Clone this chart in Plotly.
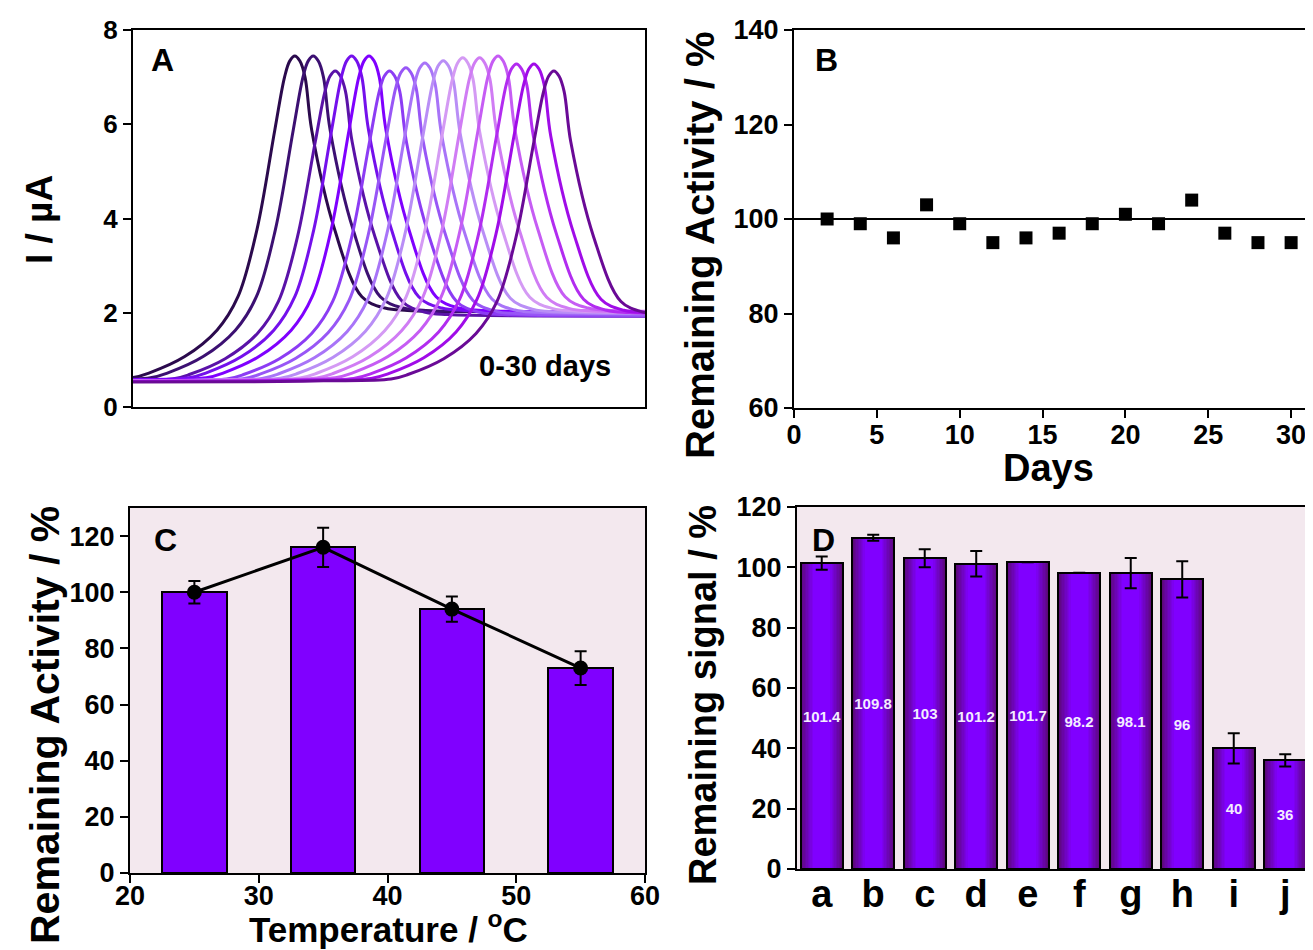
import plotly.graph_objects as go

# ---------------- Panel A: DPV curves (0-30 days) ----------------
peak_pos = [31.6, 35.2, 39.5, 42.7, 46.1, 50.1, 53.3, 57.0, 60.6, 64.4, 67.7, 71.3, 74.9, 78.3, 82.2]
peak_height = [7.45, 7.45, 7.13, 7.45, 7.45, 7.13, 7.20, 7.30, 7.35, 7.41, 7.41, 7.45, 7.28, 7.28, 7.13]
curve_colors = ["#2b0a4d", "#3c1072", "#5a12a8", "#7410ec", "#7f00ff", "#8c3cf4", "#9856f6",
                "#a874f8", "#b98ef6", "#d49af4", "#d07cf4", "#c65cf4", "#b22cf0", "#a00ce8", "#6a0a96"]
# peak profile (offset from peak, current in uA)
profile_offset = [-100, -60, -45, -31.8, -28.5, -21.5, -15.2, -11.1, -7.4, -3.9, -2.0, -1.0, 0,
                  1.0, 2.0, 3.3, 7.8, 13.1, 17.6, 22, 40, 80]
profile_value = [0.55, 0.56, 0.58, 0.62, 0.72, 1.07, 1.63, 2.34, 3.76, 5.88, 7.0, 7.34, 7.45,
                 7.34, 7.0, 5.88, 3.76, 2.34, 2.1, 2.05, 2.02, 2.0]
profile_ref_height = 7.45

# ---------------- Panel B: storage stability ----------------
days = [2, 4, 6, 8, 10, 12, 14, 16, 18, 20, 22, 24, 26, 28, 30]
activity_days = [100, 99, 96, 103, 99, 95, 96, 97, 99, 101, 99, 104, 97, 95, 95]
reference_level = 100

# ---------------- Panel C: temperature ----------------
temperature = [25, 35, 45, 55]
activity_temp = [100, 116, 94, 73]
activity_temp_err = [4, 7, 4.5, 6]

# ---------------- Panel D: selectivity ----------------
samples = ["a", "b", "c", "d", "e", "f", "g", "h", "i", "j"]
signal = [101.4, 109.8, 103, 101.2, 101.7, 98.2, 98.1, 96, 40, 36]
signal_err = [2.2, 1.0, 3.0, 4.2, None, None, 5.0, 6.0, 5.0, 2.0]

FONT = "Liberation Sans, Arial, sans-serif"
PINK = "#f3e8ee"
VIOLET = "#8000ff"

# figure is placed 8px in from the page corner (page body margin)
FIG_W, FIG_H, OFF = 1305, 942, 8


def fx(page_x):
    return (page_x - OFF) / FIG_W


def fy(page_y):
    return 1 - (page_y - OFF) / FIG_H


fig = go.Figure()

# Panel A traces
for pos, h, col in zip(peak_pos, peak_height, curve_colors):
    xs = [pos + o for o in profile_offset]
    ys = [v * h / profile_ref_height for v in profile_value]
    fig.add_trace(go.Scatter(x=xs, y=ys, mode="lines", line=dict(color=col, width=3, shape="spline", smoothing=1.0),
                             xaxis="x", yaxis="y", showlegend=False, hoverinfo="skip"))

# Panel B traces
fig.add_trace(go.Scatter(x=days, y=activity_days, mode="markers",
                         marker=dict(symbol="square", size=13, color="black"),
                         xaxis="x2", yaxis="y2", showlegend=False))
fig.add_shape(type="line", xref="x2 domain", yref="y2", x0=0, x1=1, y0=reference_level, y1=reference_level,
              line=dict(color="black", width=2))

# Panel C traces
fig.add_trace(go.Bar(x=temperature, y=activity_temp, width=5, marker=dict(color=VIOLET, line=dict(color="black", width=2)),
                     xaxis="x3", yaxis="y3", showlegend=False))
fig.add_trace(go.Scatter(x=temperature, y=activity_temp, mode="lines+markers",
                         line=dict(color="black", width=3), marker=dict(size=15, color="black"),
                         error_y=dict(type="data", array=activity_temp_err, color="black", thickness=2, width=6),
                         xaxis="x3", yaxis="y3", showlegend=False))


# Panel D traces: gradient bars built from overlaid layers
def mix(c1, c2, t):
    a = [int(c1[i:i + 2], 16) for i in (1, 3, 5)]
    b = [int(c2[i:i + 2], 16) for i in (1, 3, 5)]
    return "#" + "".join("%02x" % round(a[k] + (b[k] - a[k]) * t) for k in range(3))


full_w = 0.82
n_layers = 10
for k in range(n_layers):
    t = k / (n_layers - 1)
    w = full_w * (1 - 0.6 * t)
    col = mix("#5c0878", VIOLET, t)
    fig.add_trace(go.Bar(x=samples, y=signal, width=w, marker=dict(color=col, line=dict(width=0)),
                         xaxis="x4", yaxis="y4", showlegend=False, hoverinfo="skip"))
fig.add_trace(go.Bar(x=samples, y=signal, width=full_w,
                     marker=dict(color="rgba(0,0,0,0)", line=dict(color="black", width=2)),
                     error_y=dict(type="data", array=signal_err, color="black", thickness=2, width=6),
                     texttemplate="%{y}", textposition="inside", insidetextanchor="middle", textangle=0,
                     constraintext="none",
                     textfont=dict(family=FONT, size=15, color="#f4ecff", weight="bold"),
                     xaxis="x4", yaxis="y4", showlegend=False))

# pink backgrounds for C and D
for ax in ("x3", "x4"):
    fig.add_shape(type="rect", xref=ax + " domain", yref="y" + ax[1:] + " domain", x0=0, x1=1, y0=0, y1=1,
                  fillcolor=PINK, line=dict(width=0), layer="below")

tick_common = dict(showline=True, linecolor="black", linewidth=2, mirror=True, showgrid=False, zeroline=False,
                   ticks="outside", ticklen=8, tickwidth=2, tickcolor="black", automargin=False)


def tf(size):
    return dict(family=FONT, size=size, color="black", weight="bold")


fig.update_layout(
    template="none",
    width=FIG_W, height=FIG_H, margin=dict(l=0, r=0, t=0, b=0, autoexpand=False),
    paper_bgcolor="white", plot_bgcolor="rgba(0,0,0,0)", barmode="overlay", bargap=0,
    xaxis=dict(domain=[fx(133), fx(645)], range=[0, 100], showticklabels=False, showline=True, linecolor="black",
               linewidth=2, mirror=True, showgrid=False, zeroline=False, ticks="", anchor="y", automargin=False),
    yaxis=dict(domain=[fy(407), fy(30)], range=[0, 8], dtick=2, tickfont=tf(26), anchor="x", **tick_common),
    xaxis2=dict(domain=[fx(794), fx(1311)], range=[0, 31.2], dtick=5, tickfont=tf(27), anchor="y2",
                ticklabelstandoff=-6, **tick_common),
    yaxis2=dict(domain=[fy(408), fy(30)], range=[60, 140], dtick=20, tickfont=tf(27), anchor="x2", **tick_common),
    xaxis3=dict(domain=[fx(130), fx(645)], range=[20, 60], dtick=10, tickfont=tf(27), anchor="y3",
                ticklabelstandoff=-10, **tick_common),
    yaxis3=dict(domain=[fy(873), fy(508)], range=[0, 130], tickvals=[0, 20, 40, 60, 80, 100, 120], tickfont=tf(27),
                anchor="x3", **tick_common),
    xaxis4=dict(domain=[fx(797), fx(1311)], range=[-0.48, 9.5], type="category", showline=True, linecolor="black",
                linewidth=2, mirror=True, showgrid=False, zeroline=False, ticks="", tickfont=tf(38), anchor="y4",
                ticklabelstandoff=-10, automargin=False),
    yaxis4=dict(domain=[fy(869), fy(507)], range=[0, 120], dtick=20, tickfont=tf(27), anchor="x4", **tick_common),
)


def ann(text, px, py, size, angle=0):
    fig.add_annotation(text=text, x=fx(px), y=fy(py), xref="paper", yref="paper", showarrow=False, textangle=angle,
                       xanchor="center", yanchor="middle",
                       font=dict(family=FONT, size=size, color="black", weight="bold"))


ann("A", 162, 60, 32)
ann("B", 826, 60, 32)
ann("C", 165, 540, 32)
ann("D", 823, 540, 32)
ann("0-30 days", 545, 366, 29)
ann("I / µA", 40, 220, 37, -90)
ann("Remaining Activity / %", 700, 245, 40, -90)
ann("Days", 1048, 468, 38)
ann("Remaining Activity / %", 45, 725, 41, -90)
ann("Temperature / <sup>o</sup>C", 388, 927, 35)
ann("Remaining signal / %", 703, 695, 38, -90)

fig.write_html("out.html")
